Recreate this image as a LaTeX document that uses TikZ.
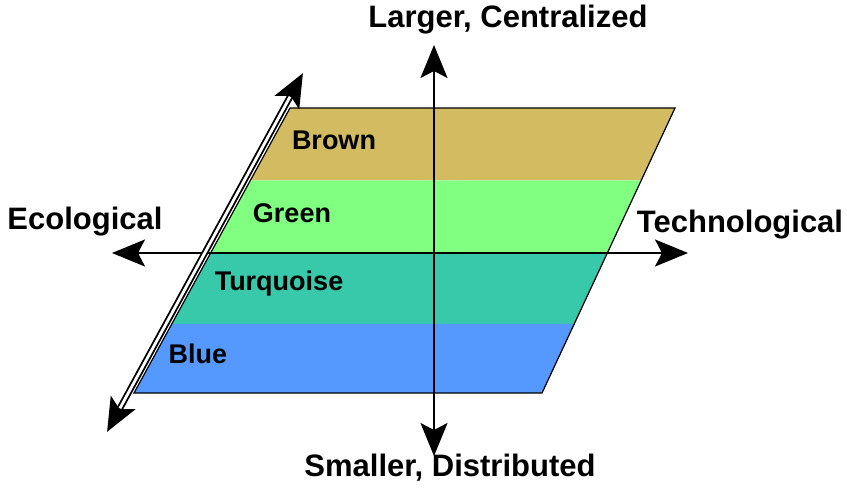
\documentclass[tikz,border=0pt]{standalone}
\usepackage{fontspec}
\setmainfont{Liberation Sans}
\usetikzlibrary{calc}
\usetikzlibrary{arrows.meta}

\definecolor{brownband}{RGB}{210,187,96}
\definecolor{greenband}{RGB}{128,255,128}
\definecolor{turqband}{RGB}{56,201,170}
\definecolor{blueband}{RGB}{85,153,255}

\tikzset{
    axislabel/.style={font=\fontsize{31}{34}\selectfont\bfseries},
    bandlabel/.style={font=\fontsize{27}{30}\selectfont\bfseries},
    axisarrow/.style={line width=2pt, {Stealth[length=33pt,width=27pt,inset=7pt]}-{Stealth[length=33pt,width=27pt,inset=7pt]}},
}

\begin{document}
\begin{tikzpicture}[x=1pt,y=-1pt]
    \useasboundingbox (0,0) rectangle (847,488);
    % corners of the plane
    \coordinate (tl) at (290,108);
    \coordinate (tr) at (675,108);
    \coordinate (br) at (542,393);
    \coordinate (bl) at (134,393);
    % bands
    \foreach \col/\a/\b in {brownband/0/0.254, greenband/0.254/0.511, turqband/0.511/0.757, blueband/0.757/1}
        \fill[\col] ($(tl)!\a!(bl)$) -- ($(tr)!\a!(br)$) -- ($(tr)!\b!(br)$) -- ($(tl)!\b!(bl)$) -- cycle;
    \draw[line width=1.2pt] (tl) -- (tr) -- (br) -- (bl) -- cycle;

    % axis ends
    \coordinate (west) at (112,253);
    \coordinate (east) at (688,253);
    \coordinate (north) at (434,45);
    \coordinate (south) at (434,456);
    \coordinate (sw) at (107,432);
    \coordinate (ne) at (303,73);

    \draw[axisarrow] (west) -- (east);
    \draw[axisarrow] (south) -- (north);
    \draw[axisarrow, line width=6.5pt] (sw) -- (ne);
    \draw[white, line width=2.8pt, shorten <=27pt, shorten >=27pt] (sw) -- (ne);

    \node[axislabel] (larger) at (508,20) {Larger, Centralized};
    \node[axislabel] (smaller) at (450,468) {Smaller, Distributed};
    \node[axislabel] (eco) at (85,222) {Ecological};
    \node[axislabel] (tech) at (740,225) {Technological};

    \node[bandlabel] (brown) at (334,140) {Brown};
    \node[bandlabel] (green) at (292,213) {Green};
    \node[bandlabel] (turq) at (279,284) {Turquoise};
    \node[bandlabel] (blue) at (198,354) {Blue};
\end{tikzpicture}
\end{document}
